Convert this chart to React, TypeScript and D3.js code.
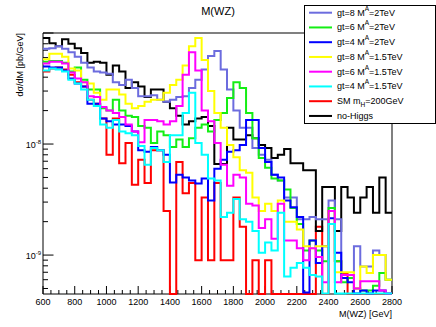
import React, { useRef, useEffect } from "react";
import * as d3 from "d3";

// 55 bins of 40 GeV between 600 and 2800 GeV
const binStart = 600;
const binWidth = 40;
const xMin = 600;
const xMax = 2800;
const yMin = 4.46e-10;
const yMax = 1e-7;

const xLabelTicks = [600, 800, 1000, 1200, 1400, 1600, 1800, 2000, 2200, 2400, 2600, 2800];
const yLabelTicks = [{ v: 1e-9, exp: "-9" }, { v: 1e-8, exp: "-8" }];

// dsigma/dM [pb/GeV], one value per bin
const gt8MA2 = [7.2e-8, 7.3e-8, 7.6e-8, 7.2e-8, 6.7e-8, 6.1e-8, 5.4e-8, 4.9e-8, 4.5e-8, 4.4e-8, 4.3e-8, 3.6e-8, 3.4e-8, 3.8e-8, 3.2e-8, 2.7e-8, 2.7e-8, 2.75e-8, 2.5e-8, 2.4e-8, 2.5e-8, 2.65e-8, 2.7e-8, 3.2e-8, 3.8e-8, 4.7e-8, 6.2e-8, 6.9e-8, 4.7e-8, 3.1e-8, 2.0e-8, 1.4e-8, 1.4e-8, 9.2e-9, 8.0e-9, 7.2e-9, 5.3e-9, 4.7e-9, 3.3e-9, 3.3e-9, 2.1e-9, 2.1e-9, 2.2e-9, 2.1e-9, 2.1e-9, 3.1e-9, 2.1e-9, 6.2e-10, 6.2e-10, 1.2e-9, 7.9e-10, 7.9e-10, 1.1e-9, 1.0e-9, 6.0e-10];
const gt6MA2 = [5.5e-8, 5.6e-8, 5.6e-8, 5.4e-8, 4.5e-8, 4.9e-8, 3.8e-8, 3.1e-8, 3.1e-8, 2.1e-8, 2.0e-8, 2.5e-8, 2.0e-8, 1.8e-8, 1.75e-8, 1.45e-8, 1.4e-8, 1.02e-8, 1.3e-8, 1.2e-8, 9.4e-9, 1.1e-8, 9.4e-9, 1.13e-8, 1.4e-8, 1.5e-8, 1.3e-8, 1.65e-8, 1.9e-8, 2.6e-8, 3.6e-8, 3.2e-8, 1.9e-8, 1.13e-8, 7.5e-9, 6.1e-9, 4.9e-9, 4.7e-9, 3.9e-9, 2.65e-9, 1.9e-9, 1.1e-9, 1.35e-9, 1.1e-9, 8.8e-10, 2.65e-9, 8.8e-10, 5.7e-10, 6.2e-10, 5.0e-10, 4.8e-10, 4.8e-10, 5.3e-10, 6.9e-10, 6.0e-10];
const gt4MA2 = [5.0e-8, 4.9e-8, 4.9e-8, 4.6e-8, 3.9e-8, 3.5e-8, 3.3e-8, 2.3e-8, 2.3e-8, 1.7e-8, 1.6e-8, 1.5e-8, 1.5e-8, 1.45e-8, 1.3e-8, 8.8e-9, 8.5e-9, 9.4e-9, 8.8e-9, 8.0e-9, 4.5e-9, 5.3e-9, 5.0e-9, 4.7e-9, 4.4e-9, 4.9e-9, 3.1e-9, 6.0e-9, 7.2e-9, 8.5e-9, 8.8e-9, 9.8e-9, 1.65e-8, 1.65e-8, 9.2e-9, 6.9e-9, 5.3e-9, 5.0e-9, 3.1e-9, 2.7e-9, 2.2e-9, 4.6e-10, 1.35e-9, 8.5e-10, 1.2e-9, 2.15e-9, 1.05e-9, 6.2e-10, 5.7e-10, 4.5e-10, 4.8e-10, 4.5e-10, 4.8e-10, 4.8e-10, 4.5e-10];
const gt8MA15 = [5.8e-8, 6.5e-8, 6.5e-8, 6.1e-8, 4.8e-8, 4.6e-8, 3.6e-8, 3.5e-8, 2.9e-8, 2.5e-8, 3.1e-8, 3.1e-8, 2.8e-8, 2.3e-8, 2.1e-8, 2.2e-8, 2.4e-8, 2.5e-8, 2.5e-8, 2.9e-8, 3.4e-8, 3.8e-8, 5.1e-8, 7.6e-8, 9.0e-8, 5.7e-8, 3.0e-8, 1.9e-8, 1.4e-8, 9.8e-9, 7.6e-9, 5.8e-9, 5.5e-9, 3.3e-9, 2.5e-9, 2.9e-9, 2.5e-9, 3.1e-9, 2.0e-9, 2.0e-9, 1.7e-9, 1.2e-9, 1.15e-9, 1.2e-9, 1.2e-9, 2.5e-9, 7.0e-10, 7.0e-10, 7.0e-10, 5.0e-10, 7.9e-10, 6.9e-10, 1.0e-9, 1.0e-9, 6.0e-10];
const gt6MA15 = [5.3e-8, 5.5e-8, 5.5e-8, 5.3e-8, 4.4e-8, 3.9e-8, 3.6e-8, 2.7e-8, 2.65e-8, 2.15e-8, 2.0e-8, 1.9e-8, 1.75e-8, 1.5e-8, 1.3e-8, 1.04e-8, 1.65e-8, 1.65e-8, 1.6e-8, 1.5e-8, 1.6e-8, 2.2e-8, 4.2e-8, 6.7e-8, 4.6e-8, 2.0e-8, 1.6e-8, 1.02e-8, 6.5e-9, 4.2e-9, 5.3e-9, 5.0e-9, 2.9e-9, 2.8e-9, 1.75e-9, 2.1e-9, 1.4e-9, 2.9e-9, 1.35e-9, 1.35e-9, 1.15e-9, 9.0e-10, 1.15e-9, 9.6e-10, 5.7e-10, 2.5e-9, 5.7e-10, 6.6e-10, 6.6e-10, 5.0e-10, 5.8e-10, 5.8e-10, 5.8e-10, 4.8e-10, 4.5e-10];
const gt4MA15 = [4.6e-8, 4.8e-8, 4.7e-8, 4.5e-8, 3.8e-8, 3.5e-8, 3.1e-8, 2.5e-8, 2.2e-8, 1.5e-8, 1.4e-8, 1.65e-8, 1.3e-8, 1.25e-8, 1.2e-8, 9.6e-9, 6.5e-9, 9.2e-9, 8.8e-9, 6.9e-9, 1.2e-8, 1.2e-8, 1.9e-8, 2.9e-8, 1.02e-8, 8.0e-9, 4.9e-9, 4.7e-9, 2.2e-9, 2.4e-9, 3.2e-9, 2.1e-9, 2.0e-9, 1.65e-9, 1.05e-9, 1.3e-9, 1.1e-9, 2.4e-9, 6.4e-10, 7.7e-10, 8.5e-10, 7.7e-10, 6.6e-10, 6.4e-10, 4.5e-10, 1.9e-9, 4.5e-10, 4.5e-10, 4.5e-10, 4.5e-10, 4.5e-10, 4.5e-10, 4.5e-10, 4.5e-10, 4.5e-10];
const smH200 = [4.5e-8, 4.8e-8, 4.9e-8, 4.7e-8, 4.2e-8, 3.6e-8, 3.3e-8, 2.5e-8, 2.3e-8, 1.7e-8, 8.0e-9, 1.7e-8, 6.7e-9, 1.02e-8, 4.3e-9, 7.2e-9, 4.45e-9, 8.8e-9, 8.8e-9, 2.5e-9, 0, 6.9e-9, 3.6e-9, 4.45e-9, 9.0e-10, 3.3e-9, 9.0e-10, 4.45e-9, 9.0e-10, 9.0e-10, 3.3e-9, 1.8e-9, 0, 9.0e-10, 0, 9.0e-10, 0, 0, 0, 0, 0, 0, 0, 1.8e-9, 0, 2.5e-9, 8.8e-10, 6.9e-10, 0, 0, 0, 0, 0, 0, 0];
const noHiggs = [9.0e-8, 8.1e-8, 7.6e-8, 8.8e-8, 8.0e-8, 7.3e-8, 6.6e-8, 5.4e-8, 5.5e-8, 5.4e-8, 4.2e-8, 5.1e-8, 4.5e-8, 3.2e-8, 3.6e-8, 3.3e-8, 2.65e-8, 3.1e-8, 3.1e-8, 2.4e-8, 2.1e-8, 1.8e-8, 1.5e-8, 1.6e-8, 1.7e-8, 1.75e-8, 1.45e-8, 6.6e-9, 6.6e-9, 1.4e-8, 1.1e-8, 1.1e-8, 1.2e-8, 1.13e-8, 9.8e-9, 9.2e-9, 7.5e-9, 8.0e-9, 9.0e-9, 6.7e-9, 6.7e-9, 5.8e-9, 5.8e-9, 1.65e-9, 4.1e-9, 4.1e-9, 1.65e-9, 4.1e-9, 3.3e-9, 2.4e-9, 3.3e-9, 4.1e-9, 2.4e-9, 5.0e-9, 2.4e-9];

// legend rows: [text, "sup" | "sub" | ""]
const legendRows = [
  { values: gt8MA2, color: "#6c6cde", label: [["gt=8 M", ""], ["A", "sup"], ["=2TeV", ""]] },
  { values: gt6MA2, color: "#14ee14", label: [["gt=6 M", ""], ["A", "sup"], ["=2TeV", ""]] },
  { values: gt4MA2, color: "#0000ff", label: [["gt=4 M", ""], ["A", "sup"], ["=2TeV", ""]] },
  { values: gt8MA15, color: "#ffff00", label: [["gt=8 M", ""], ["A", "sup"], ["=1.5TeV", ""]] },
  { values: gt6MA15, color: "#ff00ff", label: [["gt=6 M", ""], ["A", "sup"], ["=1.5TeV", ""]] },
  { values: gt4MA15, color: "#00ffff", label: [["gt=4 M", ""], ["A", "sup"], ["=1.5TeV", ""]] },
  { values: smH200, color: "#ff0000", label: [["SM m", ""], ["H", "sub"], ["=200GeV", ""]] },
  { values: noHiggs, color: "#000000", label: [["no-Higgs", ""]] },
];

// order in which the histograms are stacked on the canvas
const drawOrder = [6, 7, 0, 1, 2, 3, 4, 5];

const FONT = "'Liberation Sans', Arial, Helvetica, sans-serif";

const App = () => {
  const svgRef = useRef<SVGSVGElement>(null);

  useEffect(() => {
    const svg = d3.select(svgRef.current);
    svg.selectAll("*").remove();

    const frame = { left: 43, right: 392, top: 33, bottom: 294 };
    const x = d3.scaleLinear().domain([xMin, xMax]).range([frame.left, frame.right]);
    const y = d3.scaleLog().domain([yMin, yMax]).range([frame.bottom, frame.top]);

    svg.append("rect").attr("width", 436).attr("height", 327).attr("fill", "#fff");

    // title
    svg
      .append("text")
      .attr("x", 218)
      .attr("y", 15)
      .attr("text-anchor", "middle")
      .attr("font-family", FONT)
      .attr("font-size", 11)
      .text("M(WZ)");

    // frame (top / right)
    svg
      .append("path")
      .attr("d", `M${frame.left},${frame.top}H${frame.right}V${frame.bottom}`)
      .attr("fill", "none")
      .attr("stroke", "#808080")
      .attr("stroke-width", 2);

    // x axis
    const xAxis = svg.append("g");
    xAxis
      .append("line")
      .attr("x1", frame.left)
      .attr("x2", frame.right)
      .attr("y1", frame.bottom)
      .attr("y2", frame.bottom)
      .attr("stroke", "#000");
    xAxis
      .selectAll("line.tick")
      .data(d3.range(xMin, xMax + 1, 50))
      .join("line")
      .attr("class", "tick")
      .attr("x1", (d) => x(d))
      .attr("x2", (d) => x(d))
      .attr("y1", frame.bottom)
      .attr("y2", (d) => frame.bottom - (d % 200 === 0 ? 8 : 4))
      .attr("stroke", "#000");
    xAxis
      .selectAll("text.lab")
      .data(xLabelTicks)
      .join("text")
      .attr("class", "lab")
      .attr("x", (d) => x(d))
      .attr("y", 305)
      .attr("text-anchor", "middle")
      .attr("font-family", FONT)
      .attr("font-size", 9)
      .text((d) => d);
    xAxis
      .append("text")
      .attr("x", frame.right)
      .attr("y", 317)
      .attr("text-anchor", "end")
      .attr("font-family", FONT)
      .attr("font-size", 9)
      .text("M(WZ) [GeV]");

    // y axis
    const yAxis = svg.append("g");
    yAxis
      .append("line")
      .attr("x1", frame.left)
      .attr("x2", frame.left)
      .attr("y1", frame.top)
      .attr("y2", frame.bottom)
      .attr("stroke", "#000");
    const yTicks = y.ticks().filter((d) => d >= yMin && d <= yMax);
    yAxis
      .selectAll("line.tick")
      .data(yTicks)
      .join("line")
      .attr("class", "tick")
      .attr("x1", frame.left)
      .attr("x2", (d) => {
        const m = d / Math.pow(10, Math.floor(Math.log10(d) + 1e-9));
        return frame.left + (Math.abs(m - 1) < 1e-6 ? 10.5 : 5);
      })
      .attr("y1", (d) => y(d))
      .attr("y2", (d) => y(d))
      .attr("stroke", "#000");
    const yLab = yAxis
      .selectAll("text.lab")
      .data(yLabelTicks)
      .join("text")
      .attr("class", "lab")
      .attr("x", 41)
      .attr("y", (d) => y(d.v) + 4)
      .attr("text-anchor", "end")
      .attr("font-family", FONT)
      .attr("font-size", 9);
    yLab.append("tspan").text("10");
    yLab
      .append("tspan")
      .attr("dy", -4)
      .attr("font-size", 6)
      .text((d) => d.exp);
    yAxis
      .append("text")
      .attr("transform", `translate(23,${frame.top}) rotate(-90)`)
      .attr("text-anchor", "end")
      .attr("font-family", FONT)
      .attr("font-size", 9)
      .text("dσ/dM [pb/GeV]");

    // histograms
    const line = d3
      .line<[number, number]>()
      .x((d) => x(d[0]))
      .y((d) => y(Math.max(d[1], yMin)))
      .curve(d3.curveStepAfter);

    const hists = svg.append("g");
    drawOrder.forEach((k) => {
      const s = legendRows[k];
      const pts: [number, number][] = s.values.map((v, i) => [binStart + i * binWidth, v]);
      pts.push([binStart + s.values.length * binWidth, s.values[s.values.length - 1]]);
      hists
        .append("path")
        .attr("d", line(pts))
        .attr("fill", "none")
        .attr("stroke", s.color)
        .attr("stroke-width", 2)
        .attr("stroke-linejoin", "miter");
    });

    // legend
    const lg = { x: 304, y: 5, w: 131, h: 118 };
    svg
      .append("clipPath")
      .attr("id", "legend-clip")
      .append("rect")
      .attr("x", lg.x)
      .attr("y", lg.y)
      .attr("width", lg.w)
      .attr("height", lg.h);
    const legend = svg.append("g");
    legend
      .append("rect")
      .attr("x", lg.x + 0.5)
      .attr("y", lg.y + 0.5)
      .attr("width", lg.w)
      .attr("height", lg.h)
      .attr("fill", "#fff")
      .attr("stroke", "#000");
    const rows = legend
      .append("g")
      .attr("clip-path", "url(#legend-clip)")
      .selectAll("g")
      .data(legendRows)
      .join("g")
      .attr("transform", (d, i) => `translate(0,${12.7 + i * 14.75})`);
    rows
      .append("line")
      .attr("x1", 309)
      .attr("x2", 332)
      .attr("stroke", (d) => d.color)
      .attr("stroke-width", 2);
    const lt = rows
      .append("text")
      .attr("x", 337)
      .attr("y", 3)
      .attr("font-family", FONT)
      .attr("font-size", 9);
    lt.each(function (d) {
      const t = d3.select(this);
      let shift = 0;
      d.label.forEach(([txt, kind]) => {
        const target = kind === "sup" ? -5 : kind === "sub" ? 3 : 0;
        t.append("tspan")
          .attr("dy", target - shift)
          .attr("font-size", kind ? 6.5 : 9)
          .text(txt);
        shift = target;
      });
    });
  }, []);

  return (
    <svg
      ref={svgRef}
      width={436}
      height={327}
      style={{ position: "absolute", left: 0, top: 0, display: "block" }}
    ></svg>
  );
};

export default App;
